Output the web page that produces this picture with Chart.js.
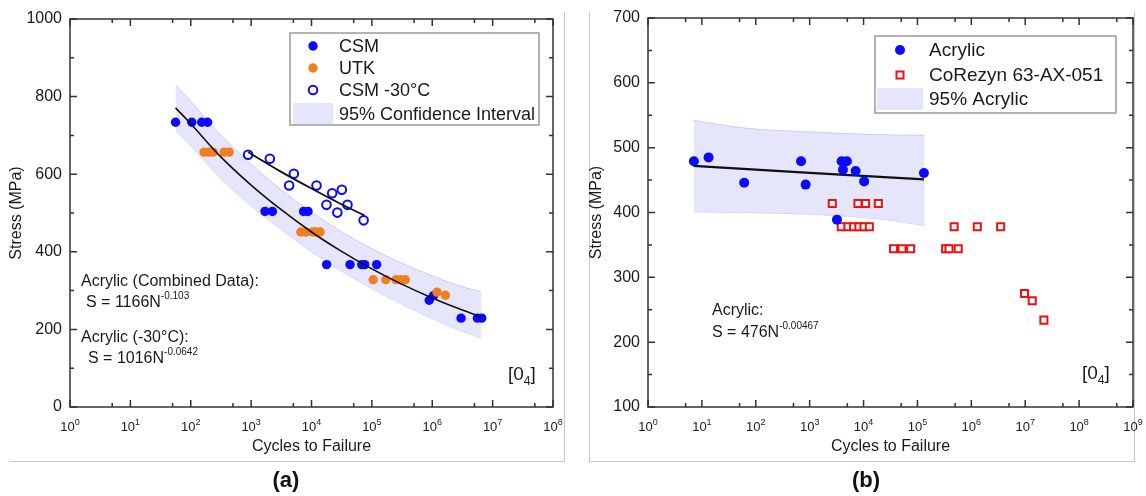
<!DOCTYPE html>
<html>
<head>
<meta charset="utf-8">
<script src="https://cdn.jsdelivr.net/npm/chart.js@4.4.1/dist/chart.umd.min.js"></script>
<style>
body{margin:0;background:#fff;width:1146px;height:496px;overflow:hidden;position:relative;font-family:"Liberation Sans",Arial,sans-serif}
#wa{position:absolute;left:0;top:0;width:578px;height:496px}
#wb{position:absolute;left:578px;top:0;width:568px;height:496px}
.frame{position:absolute;background:#c8c8c8}
.cap{position:absolute;font-weight:bold;font-size:22px;color:#111;width:60px;text-align:center}
</style>
</head>
<body>
<div class="frame" style="left:564px;top:12px;width:1px;height:450px"></div>
<div class="frame" style="left:9px;top:461px;width:556px;height:1px"></div>
<div class="frame" style="left:589px;top:12px;width:1px;height:450px"></div>
<div class="frame" style="left:589px;top:461px;width:546px;height:1px"></div>
<div class="frame" style="left:1134px;top:12px;width:1px;height:450px"></div>
<div id="wa"><canvas id="ca" width="578" height="496"></canvas></div>
<div id="wb"><canvas id="cb" width="568" height="496"></canvas></div>
<div class="cap" style="left:256px;top:467px">(a)</div>
<div class="cap" style="left:836px;top:467px">(b)</div>
<script>
// ---- panel (a): acrylic, cycles vs stress ----
var csmN = [56, 104, 152, 190, 1700, 2250, 7400, 8750, 17800, 43500, 68000, 76000, 120000, 890000, 1050000, 3000000, 5600000, 6600000];
var csmS = [734, 734, 734, 734, 504, 504, 504, 504, 367, 367, 367, 367, 367, 275, 287, 229, 229, 229];
var utkN = [166, 200, 235, 357, 433, 6650, 8100, 10500, 11800, 13900, 105000, 170000, 250000, 302000, 358000, 1200000, 1650000];
var utkS = [657, 657, 657, 657, 657, 451, 451, 451, 451, 451, 328, 328, 328, 328, 328, 296, 288];
var coldN = [891, 2040, 5100, 4260, 12100, 22000, 31800, 17700, 39500, 26800, 73000];
var coldS = [650, 640, 601, 571, 571, 551, 560, 521, 521, 501, 481];
// fit curves and 95% band
var fitAllN = [56, 100, 300, 1000, 3000, 10000, 30000, 100000, 300000, 1000000, 3000000, 6500000];
var fitAllS = [771, 730, 648, 572, 511, 451, 403, 356, 318, 281, 251, 232];
var bandHiA = [830, 788, 704, 626, 563, 502, 454, 408, 372, 338, 311, 296];
var bandLoA = [714, 673, 592, 518, 460, 400, 352, 305, 266, 228, 196, 178];
var fitColdN = [891, 3000, 10000, 30000, 75000];
var fitColdS = [657, 608, 563, 524, 494];
var xExpA = [0, 1, 2, 3, 4, 5, 6, 7, 8];
var yTicksA = [0, 200, 400, 600, 800, 1000];

// ---- panel (b): acrylic vs CoRezyn ----
var acrN = [7.1, 13.3, 61, 692, 842, 3920, 4900, 4150, 7130, 10250, 132000, 3210];
var acrS = [479, 485, 446, 479, 443, 479, 479, 466, 464, 448, 461, 389];
var corN = [2630, 7870, 10900, 18800, 3860, 5130, 6530, 8200, 10200, 12800, 480000, 1290000, 3500000, 36000, 51800, 74800, 333000, 385000, 571000, 9700000, 13500000, 22200000];
var corS = [414, 414, 414, 414, 378, 378, 378, 378, 378, 378, 378, 378, 378, 344, 344, 344, 344, 344, 344, 275, 264, 234];
var fitAcrN = [7, 1000, 132000];
var fitAcrS = [472, 461, 451];
var bandN_B = [7, 67, 1150, 20000, 135000];
var bandHiB = [542, 530, 524, 520, 519];
var bandLoB = [401, 400, 397, 390, 380];
var xExpB = [0, 1, 2, 3, 4, 5, 6, 7, 8, 9];
var yTicksB = [100, 200, 300, 400, 500, 600, 700];

var FONT = '"Liberation Sans", Arial, sans-serif';
var BLUE = '#0a0aff', ORANGE = '#f07f1f', RED = '#ee1111';
var BAND = 'rgba(226,226,252,0.9)', BANDEDGE = 'rgba(200,200,244,0.9)';

function pts(n, s) {
   return n.map(function(v, i) { return {x: v, y: s[i]}; });
}

function supText(ctx, x, y, main, sup, size, supSize, rise) {
   ctx.font = size + 'px ' + FONT;
   ctx.textAlign = 'left';
   ctx.fillText(main, x, y);
   var w = ctx.measureText(main).width;
   ctx.font = supSize + 'px ' + FONT;
   ctx.fillText(sup, x + w, y - rise);
   return w + ctx.measureText(sup).width;
}

//Draws frame, inward ticks, x labels with exponents, titles, legend box and notes
var deco = {
   id: 'deco',
   afterDatasetsDraw: function(chart, args, o) {
      var ctx = chart.ctx, a = chart.chartArea, x = chart.scales.x, y = chart.scales.y;
      ctx.save();
      ctx.strokeStyle = '#333';
      ctx.lineWidth = 1.5;
      ctx.strokeRect(a.left, a.top, a.right - a.left, a.bottom - a.top);

      function vt(px, len) {
         ctx.beginPath();
         ctx.moveTo(px, a.bottom); ctx.lineTo(px, a.bottom - len);
         ctx.moveTo(px, a.top); ctx.lineTo(px, a.top + len);
         ctx.stroke();
      }
      function ht(py, len) {
         ctx.beginPath();
         ctx.moveTo(a.left, py); ctx.lineTo(a.left + len, py);
         ctx.moveTo(a.right, py); ctx.lineTo(a.right - len, py);
         ctx.stroke();
      }
      var last = o.xExp[o.xExp.length - 1];
      o.xExp.forEach(function(e) {
         vt(x.getPixelForValue(Math.pow(10, e)), 7);
         if (e < last) vt(x.getPixelForValue(5 * Math.pow(10, e)), 4);
      });
      for (var v = y.min; v <= y.max; v += o.yMinor) {
         ht(y.getPixelForValue(v), (v - y.min) % o.yMajor === 0 ? 7 : 4);
      }

      // x tick labels
      ctx.fillStyle = '#1a1a1a';
      ctx.textBaseline = 'alphabetic';
      o.xExp.forEach(function(e) {
         var px = x.getPixelForValue(Math.pow(10, e));
         ctx.font = '13px ' + FONT;
         var w1 = ctx.measureText('10').width;
         ctx.font = '9px ' + FONT;
         var w2 = ctx.measureText(String(e)).width;
         supText(ctx, px - (w1 + w2) / 2, 431, '10', String(e), 13, 9, 6);
      });

      // axis titles
      ctx.font = '16px ' + FONT;
      ctx.textAlign = 'center';
      ctx.fillText('Cycles to Failure', (a.left + a.right) / 2, 451);
      ctx.save();
      ctx.translate(o.yTitleX, (a.top + a.bottom) / 2);
      ctx.rotate(-Math.PI / 2);
      ctx.textBaseline = 'middle';
      ctx.fillText('Stress (MPa)', 0, 0);
      ctx.restore();

      // legend
      var L = o.legend;
      ctx.fillStyle = '#fff';
      ctx.fillRect(L.x0, L.y0, L.x1 - L.x0, L.y1 - L.y0);
      ctx.strokeStyle = '#9a9a9a';
      ctx.lineWidth = 1.5;
      ctx.strokeRect(L.x0, L.y0, L.x1 - L.x0, L.y1 - L.y0);
      L.items.forEach(function(it, i) {
         var cy = L.rows[i];
         if (it.kind === 'band') {
            ctx.fillStyle = BAND;
            ctx.fillRect(L.sw[0], L.sw[1], L.sw[2] - L.sw[0], L.sw[3] - L.sw[1]);
         } else if (it.kind === 'dot') {
            ctx.fillStyle = it.color;
            ctx.beginPath(); ctx.arc(L.mx, cy, it.r, 0, Math.PI * 2); ctx.fill();
         } else if (it.kind === 'ring') {
            ctx.strokeStyle = it.color; ctx.lineWidth = 2; ctx.fillStyle = '#fff';
            ctx.beginPath(); ctx.arc(L.mx, cy, it.r, 0, Math.PI * 2); ctx.fill(); ctx.stroke();
         } else if (it.kind === 'square') {
            ctx.strokeStyle = it.color; ctx.lineWidth = 2; ctx.fillStyle = '#fff';
            ctx.fillRect(L.mx - 3.5, cy - 3.5, 7, 7); ctx.strokeRect(L.mx - 3.5, cy - 3.5, 7, 7);
         }
         ctx.fillStyle = '#1a1a1a';
         ctx.font = L.size + 'px ' + FONT;
         ctx.textAlign = 'left';
         ctx.textBaseline = 'middle';
         ctx.fillText(it.text, L.tx, cy + 1);
      });

      // notes with exponents
      ctx.textBaseline = 'alphabetic';
      ctx.fillStyle = '#1a1a1a';
      o.notes.forEach(function(n) {
         if (n.sup) supText(ctx, n.x, n.y, n.text, n.sup, 16, 10, 8);
         else { ctx.font = '16px ' + FONT; ctx.textAlign = 'left'; ctx.fillText(n.text, n.x, n.y); }
      });
      // [0_4] mark
      ctx.font = '19px ' + FONT;
      ctx.textAlign = 'left';
      var bx = o.layup[0], by = o.layup[1];
      ctx.fillText('[0', bx, by);
      bx += ctx.measureText('[0').width;
      ctx.font = '12px ' + FONT;
      ctx.fillText('4', bx, by + 5);
      bx += ctx.measureText('4').width;
      ctx.font = '19px ' + FONT;
      ctx.fillText(']', bx, by);
      ctx.restore();
   }
};

function baseOptions(xMax, yMin, yMax, yTicks, padRight, padTop, deco) {
   return {
      responsive: false,
      animation: false,
      events: [],
      layout: {padding: {left: 0, right: padRight, top: padTop, bottom: 0}},
      scales: {
         x: {
            type: 'logarithmic', min: 1, max: xMax,
            grid: {display: false, drawTicks: false},
            border: {display: false},
            ticks: {display: false},
            afterFit: function(s) { s.height = 89; }
         },
         y: {
            min: yMin, max: yMax,
            grid: {display: false, drawTicks: false},
            border: {display: false},
            afterBuildTicks: function(s) { s.ticks = yTicks.map(function(v) { return {value: v}; }); },
            ticks: {padding: 8, color: '#1a1a1a', font: {size: 16, family: FONT},
                    callback: function(v) { return String(v); }},
            afterFit: function(s) { s.width = 70; }
         }
      },
      plugins: {legend: {display: false}, tooltip: {enabled: false}, deco: deco}
   };
}

function bandSet(n, s, fill) {
   return {data: pts(n, s), showLine: true, pointRadius: 0, borderColor: BANDEDGE, borderWidth: 1,
           backgroundColor: BAND, fill: fill, tension: 0.3, cubicInterpolationMode: 'monotone', order: 3};
}

new Chart(document.getElementById('ca'), {
   type: 'scatter',
   data: {
      datasets: [
         bandSet(fitAllN, bandHiA, '+1'),
         bandSet(fitAllN, bandLoA, false),
         {data: pts(fitAllN, fitAllS), showLine: true, pointRadius: 0, borderColor: '#111', borderWidth: 1.6, tension: 0.3, cubicInterpolationMode: 'monotone', order: 0},
         {data: pts(fitColdN, fitColdS), showLine: true, pointRadius: 0, borderColor: '#111', borderWidth: 1.8, tension: 0.3, cubicInterpolationMode: 'monotone', order: 0},
         {data: pts(utkN, utkS), pointRadius: 4.7, backgroundColor: ORANGE, borderWidth: 0, order: 1},
         {data: pts(csmN, csmS), pointRadius: 4.7, backgroundColor: BLUE, borderWidth: 0, order: 1},
         {data: pts(coldN, coldS), pointRadius: 4.3, backgroundColor: '#fff', borderColor: BLUE, borderWidth: 2, order: 1}
      ]
   },
   options: baseOptions(1e8, 0, 1000, yTicksA, 25, 19, {
      xExp: xExpA, yMajor: 200, yMinor: 100, yTitleX: 17,
      legend: {x0: 290, y0: 33, x1: 539, y1: 125, mx: 313, tx: 339, size: 18,
               rows: [46, 68, 90, 114], sw: [293, 103, 333, 124],
               items: [{kind: 'dot', color: BLUE, r: 4.7, text: 'CSM'},
                       {kind: 'dot', color: ORANGE, r: 4.7, text: 'UTK'},
                       {kind: 'ring', color: BLUE, r: 4.3, text: 'CSM -30°C'},
                       {kind: 'band', text: '95% Confidence Interval'}]},
      notes: [{x: 81, y: 286, text: 'Acrylic (Combined Data):'},
              {x: 86, y: 307, text: 'S = 1166N', sup: '-0.103'},
              {x: 81, y: 342, text: 'Acrylic (-30°C):'},
              {x: 88, y: 363, text: 'S = 1016N', sup: '-0.0642'}],
      layup: [508, 380]
   }),
   plugins: [deco]
});

new Chart(document.getElementById('cb'), {
   type: 'scatter',
   data: {
      datasets: [
         bandSet(bandN_B, bandHiB, '+1'),
         bandSet(bandN_B, bandLoB, false),
         {data: pts(fitAcrN, fitAcrS), showLine: true, pointRadius: 0, borderColor: '#111', borderWidth: 2.2, order: 2},
         {data: pts(acrN, acrS), pointRadius: 5, backgroundColor: BLUE, borderWidth: 0, order: 0},
         {data: pts(corN, corS), pointStyle: 'rect', pointRadius: 5, backgroundColor: '#fff', borderColor: RED, borderWidth: 2, order: 1}
      ]
   },
   options: baseOptions(1e9, 100, 700, yTicksB, 13, 18, {
      xExp: xExpB, yMajor: 100, yMinor: 50, yTitleX: 19,
      legend: {x0: 297, y0: 36, x1: 538, y1: 113, mx: 322, tx: 351, size: 19,
               rows: [50, 75, 99], sw: [299, 88, 345, 110],
               items: [{kind: 'dot', color: BLUE, r: 5, text: 'Acrylic'},
                       {kind: 'square', color: RED, text: 'CoRezyn 63-AX-051'},
                       {kind: 'band', text: '95% Acrylic'}]},
      notes: [{x: 134, y: 315, text: 'Acrylic:'},
              {x: 134, y: 337, text: 'S = 476N', sup: '-0.00467'}],
      layup: [504, 379]
   }),
   plugins: [deco]
});
</script>
</body>
</html>
